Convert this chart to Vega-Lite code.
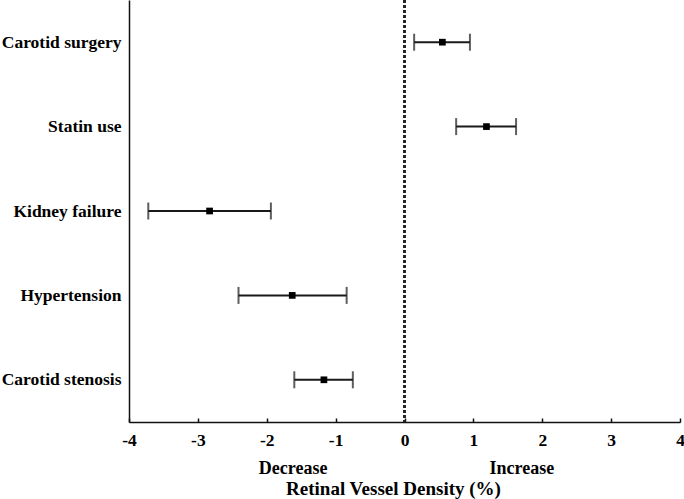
{
  "$schema": "https://vega.github.io/schema/vega-lite/v6.json",
  "autosize": "none",
  "width": 551,
  "height": 422,
  "padding": {"left": 129, "top": 0, "right": 4, "bottom": 77},
  "background": "white",
  "title": {"text": "Retinal Vessel Density (%)", "orient": "bottom", "anchor": "middle", "dx": -11, "offset": 2, "font": "Liberation Serif", "fontSize": 19, "fontWeight": "bold", "color": "#000"},
  "config": {
    "view": {"stroke": null},
    "font": "Liberation Serif",
    "axis": {"grid": false, "domainColor": "#111", "domainWidth": 1.5, "labelColor": "#000", "labelFont": "Liberation Serif", "labelFontWeight": "bold", "titleFont": "Liberation Serif", "titleFontWeight": "bold", "titleColor": "#000"}
  },
  "data": {"values": [
    {"factor": "Carotid surgery", "est": 0.55, "lo": 0.14, "hi": 0.95},
    {"factor": "Statin use", "est": 1.19, "lo": 0.75, "hi": 1.62},
    {"factor": "Kidney failure", "est": -2.83, "lo": -3.72, "hi": -1.94},
    {"factor": "Hypertension", "est": -1.63, "lo": -2.41, "hi": -0.84},
    {"factor": "Carotid stenosis", "est": -1.17, "lo": -1.60, "hi": -0.75}
  ]},
  "encoding": {
    "y": {"field": "factor", "type": "nominal", "sort": null,
      "scale": {"type": "point", "padding": 0.5},
      "axis": {"title": null, "ticks": false, "labelFontSize": 17.5, "labelPadding": 8, "domainColor": "#111"}}
  },
  "layer": [
    {
      "mark": {"type": "rule", "color": "#1a1a1a", "strokeWidth": 2},
      "encoding": {
        "x": {"field": "lo", "type": "quantitative",
          "scale": {"domain": [-4, 4], "nice": false, "zero": false},
          "axis": {"values": [-4, -3, -2, -1, 0, 1, 2, 3, 4], "labelExpr": "'' + datum.value", "labelFontSize": 17.5, "tickSize": -4, "tickColor": "#111", "tickWidth": 1.5, "labelPadding": 13, "labelFlush": false,
            "title": "Decrease\u00a0\u00a0\u00a0\u00a0\u00a0\u00a0\u00a0\u00a0\u00a0\u00a0\u00a0\u00a0\u00a0\u00a0\u00a0\u00a0\u00a0\u00a0\u00a0\u00a0\u00a0\u00a0\u00a0\u00a0\u00a0\u00a0\u00a0\u00a0\u00a0\u00a0\u00a0\u00a0\u00a0\u00a0\u00a0\u00a0Increase",
            "titleFontSize": 18, "titlePadding": 11, "titleX": 277, "titleAlign": "center"}},
        "x2": {"field": "hi"}
      }
    },
    {
      "mark": {"type": "tick", "color": "#1a1a1a", "thickness": 2, "size": 17},
      "encoding": {"x": {"field": "lo", "type": "quantitative"}}
    },
    {
      "mark": {"type": "tick", "color": "#1a1a1a", "thickness": 2, "size": 17},
      "encoding": {"x": {"field": "hi", "type": "quantitative"}}
    },
    {
      "mark": {"type": "point", "shape": "square", "filled": true, "color": "#000", "size": 45, "opacity": 1},
      "encoding": {"x": {"field": "est", "type": "quantitative"}}
    },
    {
      "mark": {"type": "rule", "color": "#222", "strokeWidth": 2, "strokeDash": [3, 2]},
      "encoding": {"x": {"datum": 0}, "y": null}
    }
  ]
}
